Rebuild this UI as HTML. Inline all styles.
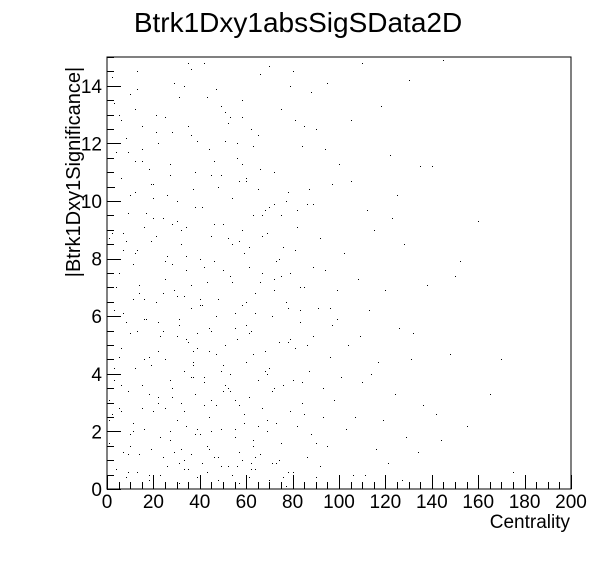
<!DOCTYPE html>
<html><head><meta charset="utf-8"><style>
body{margin:0;background:#fff;}
svg{display:block;font-family:"Liberation Sans",Arial,sans-serif;}
</style></head><body>
<svg id="chart" width="596" height="572">
<rect width="596" height="572" fill="#fff"/>
<text x="298" y="32" font-size="28" text-anchor="middle">Btrk1Dxy1absSigSData2D</text>
<text x="570" y="528" font-size="19" text-anchor="end">Centrality</text>
<text transform="translate(80,172) rotate(-90)" font-size="20" text-anchor="middle">|Btrk1Dxy1Significance|</text>
<g id="points"></g>
<g id="axes"></g>
<rect x="107" y="57" width="464" height="432" fill="none" stroke="#000" stroke-width="1"/>
</svg>
<script>
const xTicks=[0,20,40,60,80,100,120,140,160,180,200];
const yTicks=[0,2,4,6,8,10,12,14];
const xVals=[35,36,42,70,110,145,13,80,130,2,33,31,47,58,75,88,95,118,62,25,
5,8,15,22,28,39,44,52,56,65,72,84,90,100,105,122,135,12,18,27,
3,6,10,20,30,37,41,49,54,60,67,78,86,97,112,125,140,160,9,16,
24,32,38,45,50,57,63,69,76,82,92,102,115,128,2,7,11,19,26,34,
40,46,53,59,61,66,73,79,85,94,108,120,138,150,4,14,21,29,36,43,
48,55,58,64,71,77,83,91,99,113,126,170,1,8,13,17,23,31,35,39,
44,51,56,62,68,74,81,89,96,104,117,132,148,6,12,18,25,33,37,42,
47,53,60,65,70,76,87,93,101,110,124,142,3,9,15,22,28,32,38,45,
50,57,61,67,72,79,84,98,107,119,136,155,2,5,11,16,20,27,30,34,
40,44,49,55,59,63,69,75,82,88,95,103,116,129,144,175,1,7,10,14,
19,24,29,33,36,41,46,52,58,62,66,73,78,86,92,106,121,134,4,8,
13,18,23,26,31,35,39,43,48,54,57,61,64,70,77,80,90,100,111,127,
3,6,9,12,17,21,25,30,34,37,42,47,51,56,60,68,74,83,97,114,
2,10,15,20,28,32,36,40,45,50,55,59,63,71,79,85,94,105,123,152,
1,5,11,16,22,27,33,38,44,49,53,58,65,72,81,89,99,109,131,165,
1,3,4,6,7,9,10,12,14,15,17,19,21,23,24,26,28,29,31,33,
34,36,38,39,41,43,44,46,48,50,51,53,55,57,59,61,62,64,66,68,
70,73,75,78,81,84,87,90,2,5,8,11,13,16,18,20,22,25,27,30,
32,35,37,40,42,45,47,49,52,54,56,58,60,63,65,67,69,72,74,77,
80,83,86,89,93,96,3,6,9,12,15,18,21,24,27,30,33,36,39,42,
45,48,51,54,57,60,63,66,69,72,76,79,82,1,4,7,10,13,16,19,
22,25,28,31,34,37,40,43,46,49,52,55,58,61,64,67,71,75,78,85];
const yVals=[14.8,14.6,14.8,14.7,14.8,14.9,14.5,14.5,14.2,14.5,14.0,13.6,13.9,13.5,13.2,13.8,14.1,13.3,12.5,12.9,
13.0,12.2,12.6,12.0,12.4,12.1,11.8,12.7,11.5,12.3,11.0,11.9,12.5,11.3,12.8,11.6,11.2,11.4,11.1,10.9,
10.5,10.8,10.2,10.6,10.0,10.4,9.8,10.9,10.1,10.7,9.5,10.3,9.9,10.6,9.7,10.2,11.2,9.3,9.6,9.1,
9.4,9.0,9.8,8.8,9.2,8.6,9.5,8.9,8.4,9.1,8.7,8.2,9.0,8.5,8.9,8.3,7.8,8.6,8.1,7.6,
8.0,7.9,7.4,8.2,7.7,7.2,7.9,7.5,7.0,7.6,7.3,6.9,7.1,7.4,7.0,6.8,6.5,6.9,6.3,7.2,
6.6,6.1,6.4,6.8,6.0,6.5,5.8,6.3,5.9,6.2,5.6,4.5,6.0,5.8,5.5,5.9,5.3,5.7,5.1,5.4,
5.6,5.0,5.2,5.5,4.8,5.1,4.9,5.3,4.6,5.0,4.4,5.4,4.7,4.9,4.2,4.6,4.5,4.1,4.3,3.9,
4.7,4.0,4.4,3.8,4.2,3.6,4.1,3.5,3.9,3.7,3.3,2.6,3.8,3.4,3.6,3.2,3.5,3.0,3.3,3.1,
3.4,2.9,3.2,2.8,3.5,2.7,3.0,3.1,2.5,2.4,2.9,2.2,2.6,2.8,2.3,2.1,2.7,2.0,2.4,2.2,
1.9,2.5,2.1,1.8,2.3,1.7,2.0,1.6,2.2,1.9,1.5,2.1,1.4,1.8,1.7,0.6,1.6,1.3,1.5,1.2,
1.4,1.1,1.3,1.0,1.2,0.9,1.1,0.8,1.0,0.7,1.2,0.9,0.6,1.1,0.8,0.5,0.9,1.3,0.7,0.4,
0.6,0.3,0.5,0.8,0.2,0.7,0.4,0.6,0.3,0.5,0.2,0.4,0.7,0.3,0.1,0.6,0.4,0.2,0.5,0.3,
13.4,12.8,11.7,10.3,9.6,8.8,7.3,6.7,5.2,4.8,3.7,2.9,13.1,12.0,10.8,9.7,8.0,6.2,5.7,4.0,
14.3,13.7,11.4,10.1,9.2,8.5,7.1,6.4,5.5,4.3,3.1,2.3,1.5,0.9,14.0,12.6,11.8,10.7,9.4,7.9,
8.7,7.5,6.6,5.9,4.8,3.8,2.7,1.9,1.4,0.8,12.9,11.3,10.4,9.9,8.3,7.7,6.9,5.3,4.5,3.3,
2.4,6.2,11.7,3.6,8.9,1.2,5.4,13.2,7.1,2.8,9.6,4.3,12.4,1.8,6.8,10.2,3.2,14.1,5.9,0.7,
8.1,3.9,11.0,2.1,6.4,13.6,4.8,9.2,1.1,7.6,12.1,3.4,5.6,10.7,2.6,8.4,0.9,6.1,14.4,4.1,
9.8,2.3,7.4,5.1,12.8,3.7,10.4,1.6,11.5,4.6,8.6,2.0,13.9,6.6,0.5,9.4,3.0,7.9,11.3,5.3,
1.4,12.6,4.4,8.0,2.9,10.9,6.0,13.3,3.5,7.2,0.8,9.0,5.7,11.9,2.2,8.8,4.0,6.9,1.0,10.0,
3.8,7.0,5.0,9.9,2.5,6.3,4.2,2.7,0.6,8.2,11.8,3.3,13.0,5.5,1.7,9.3,6.7,12.3,4.9,7.7,
2.0,10.5,3.6,8.5,1.3,6.5,4.7,11.1,2.4,7.3,0.4,5.2,9.7,3.1,12.0,6.1,1.9,8.3,4.5,10.6,
5.8,2.8,7.8,0.9,9.1,3.9,6.6,1.5,11.4,4.1,8.7,2.1,12.9,5.4,1.1,7.5,3.4,9.5,6.3,2.6];
const X0=107,X1=571,Y0=489,Y1=57;
function sx(v){return X0+(v-0)/200*(X1-X0);}
function sy(v){return Y0-(v-0)/15*(Y0-Y1);}
const NS="http://www.w3.org/2000/svg";
const pg=document.getElementById('points');
const n=Math.min(xVals.length,yVals.length);
for(let i=0;i<n;i++){
  const r=document.createElementNS(NS,'rect');
  r.setAttribute('x',Math.round(sx(xVals[i])));
  r.setAttribute('y',Math.round(sy(yVals[i])));
  r.setAttribute('width',1);r.setAttribute('height',1);r.setAttribute('fill','#000');
  
  
  pg.appendChild(r);
}
const ag=document.getElementById('axes');
function line(x1,y1,x2,y2){const l=document.createElementNS(NS,'line');
l.setAttribute('x1',x1);l.setAttribute('y1',y1);l.setAttribute('x2',x2);l.setAttribute('y2',y2);
l.setAttribute('stroke','#000');l.setAttribute('stroke-width',1);


ag.appendChild(l);}
function text(x,y,s,anchor){const t=document.createElementNS(NS,'text');
t.setAttribute('x',x);t.setAttribute('y',y);t.setAttribute('font-size','19');t.setAttribute('text-anchor',anchor);t.textContent=s;


ag.appendChild(t);}
for(let v=0;v<=200;v+=5){const x=Math.round(sx(v))+0.5;const major=v%20===0;line(x,Y0,x,Y0-(major?14:7));}
for(let v=0;v<=15;v+=0.5){const y=Math.round(sy(v))+0.5;const major=v%2===0;line(X0,y,X0+(major?14:7),y);}
xTicks.forEach(v=>text(sx(v),508,String(v),'middle'));
yTicks.forEach(v=>text(X0-5,sy(v)+7,String(v),'end'));
</script>
</body></html>
